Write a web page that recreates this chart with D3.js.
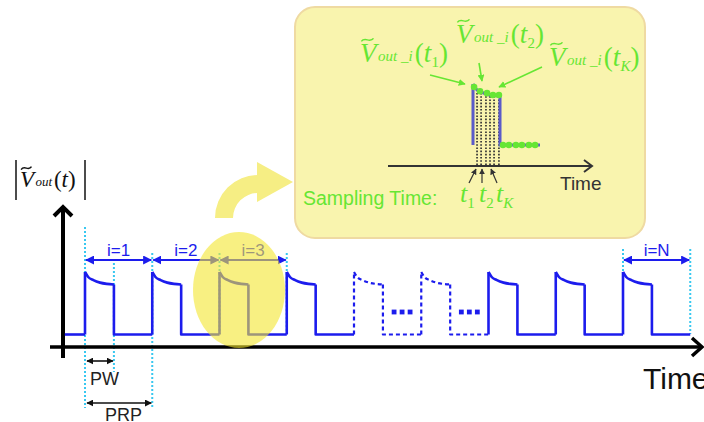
<!DOCTYPE html>
<html>
<head>
<meta charset="utf-8">
<script src="https://cdn.jsdelivr.net/npm/d3@7"></script>
<style>
  html, body { margin: 0; padding: 0; background: #fff; overflow: hidden; }
  text { font-family: "Liberation Sans", Arial, sans-serif; }
  .math { font-family: "Liberation Serif", "Times New Roman", serif; }
</style>
</head>
<body>
<svg id="chart" width="704" height="422"></svg>
<script>
// ---------- pulse train ----------
const periods = [0, 1, 2, 3, 4, 5, 6, 7, 8];            // start of each repetition, in PRP units
const dashedPeriods = [4, 5];                             // elided repetitions, drawn dashed
const pulseWidth = 0.43;                                  // PW as a fraction of PRP
const noiseFloor = 0.2;                                   // off-state magnitude
const topPhase = [0, 0.11, 0.29, 0.52, 0.75, 1.0];        // position along the pulse top (fraction of PW)
const topLevel = [1.2, 1.12, 1.07, 1.03, 1.01, 1.0];      // magnitude along the pulse top
const labelPeriods = [0, 1, 2, 8];
const labelTexts = ["i=1", "i=2", "i=3", "i=N"];
const ellipsisLevel = 0.56;

// ---------- zoomed single pulse with its samples ----------
const insetRise = 0;
const insetFall = 1;
const insetEnd = 2.48;
const insetTopT = [0.04, 0.26, 0.52, 0.74, 0.96];
const insetTopV = [1.15, 1.08, 1.05, 1.02, 1.02];
const insetBaseT = [1.11, 1.33, 1.59, 1.81, 2.07, 2.30];
const insetGridT = [0.15, 0.30, 0.48, 0.63, 0.78, 0.96];

// ---------- colours ----------
const BLUE = "#1c1ced";
const CYAN = "#38c8f0";
const GREEN = "#66e633";
const YELLOW = "rgb(243,230,47)";

const svg = d3.select("#chart");
const defs = svg.append("defs");

function arrowMarker(id, color, size) {
  defs.append("marker")
    .attr("id", id)
    .attr("viewBox", "0 -5 10 10")
    .attr("refX", 9).attr("refY", 0)
    .attr("markerUnits", "userSpaceOnUse")
    .attr("markerWidth", size).attr("markerHeight", size)
    .attr("orient", "auto-start-reverse")
    .append("path").attr("d", "M0,-5L10,0L0,5Z").attr("fill", color);
}
arrowMarker("ab", BLUE, 9);
arrowMarker("ak", "#111", 7);
arrowMarker("ag", GREEN, 7);
arrowMarker("ad", "#333", 6);

// ---------- scales ----------
const x = d3.scaleLinear().domain([0, 8]).range([85, 623]);
const y = d3.scaleLinear().domain([0, 1.2]).range([347, 272]);

// ---------- inset panel ----------
const inset = svg.append("g");
inset.append("rect")
  .attr("x", 295).attr("y", 7).attr("width", 350).attr("height", 231)
  .attr("rx", 20)
  .attr("fill", "#f9f4ae").attr("stroke", "#efdaa2").attr("stroke-width", 2);

const ix = d3.scaleLinear().domain([0, 1]).range([473, 500]);
const iy = d3.scaleLinear().domain([0.2, 1.2]).range([145, 84]);

// sampling instants
inset.selectAll("line.grid").data(insetGridT).join("line")
  .attr("class", "grid")
  .attr("x1", d => ix(d)).attr("x2", d => ix(d))
  .attr("y1", 93).attr("y2", 165)
  .attr("stroke", "#333").attr("stroke-width", 1.7)
  .attr("stroke-dasharray", "1.6,1.6");

// inset time axis
inset.append("line").attr("x1", 388).attr("x2", 591).attr("y1", 166).attr("y2", 166)
  .attr("stroke", "#333").attr("stroke-width", 2);
inset.append("path").attr("d", "M584,160L592,166L584,172")
  .attr("fill", "none").attr("stroke", "#333").attr("stroke-width", 2);
inset.append("text").attr("x", 560).attr("y", 190)
  .attr("font-size", 19).attr("fill", "#333").text("Time");

// zoomed pulse
const insetTop = topPhase.map((p, k) => [insetRise + p * (insetFall - insetRise), topLevel[k]]);
const iline = d3.line().x(d => ix(d[0])).y(d => iy(d[1]));
const insetPulseColor = "#5b5bc9";
inset.append("path")
  .attr("d", iline([[insetRise, noiseFloor], [insetRise, topLevel[0]]]))
  .attr("stroke", insetPulseColor).attr("stroke-width", 3).attr("fill", "none");
inset.append("path")
  .attr("d", iline.curve(d3.curveMonotoneX)(insetTop))
  .attr("stroke", insetPulseColor).attr("stroke-width", 3).attr("fill", "none");
iline.curve(d3.curveLinear);
inset.append("path")
  .attr("d", iline([[insetFall, topLevel[topLevel.length - 1]], [insetFall, noiseFloor], [insetEnd, noiseFloor]]))
  .attr("stroke", insetPulseColor).attr("stroke-width", 3).attr("fill", "none");

// samples
inset.selectAll("circle.top").data(insetTopT).join("circle")
  .attr("class", "top")
  .attr("cx", d => ix(d)).attr("cy", (d, k) => iy(insetTopV[k])).attr("r", 3.3)
  .attr("fill", GREEN);
inset.selectAll("circle.base").data(insetBaseT).join("circle")
  .attr("class", "base")
  .attr("cx", d => ix(d)).attr("cy", iy(noiseFloor)).attr("r", 3.3)
  .attr("fill", GREEN);

// magnitude labels  V~_out_i(t_k)
function tilde(g, x0, yc, w, color, sw) {
  g.append("path")
    .attr("d", `M${x0},${yc + 1.5}C${x0 + w * 0.3},${yc - 3.5} ${x0 + w * 0.7},${yc + 3.5} ${x0 + w},${yc - 1.5}`)
    .attr("fill", "none").attr("stroke", color).attr("stroke-width", sw);
}
function magLabel(g, x0, base, size, subSize, sub, arg, argSub, color) {
  const t = g.append("text").attr("class", "math")
    .attr("x", x0).attr("y", base).attr("fill", color).attr("font-size", size);
  t.append("tspan").attr("font-style", "italic").text("V");
  t.append("tspan").attr("font-style", "italic").attr("font-size", subSize)
    .attr("dx", size * 0.06).attr("dy", -1).attr("xml:space", "preserve").text(sub);
  t.append("tspan").attr("dx", size * 0.08).attr("dy", 1).text("(");
  t.append("tspan").attr("font-style", "italic").text(arg);
  if (argSub) {
    t.append("tspan").attr("font-size", subSize)
      .attr("font-style", /[A-Za-z]/.test(argSub) ? "italic" : "normal")
      .attr("dy", size * 0.2).text(argSub);
    t.append("tspan").attr("dy", -size * 0.2).text(")");
  } else {
    t.append("tspan").text(")");
  }
  tilde(g, x0 + size * 0.05, base - size * 0.82, size * 0.45, color, 1.5);
}
magLabel(inset, 360, 62, 27, 15, "out _i", "t", "1", GREEN);
magLabel(inset, 456, 43, 27, 15, "out _i", "t", "2", GREEN);
magLabel(inset, 549, 66, 27, 15, "out _i", "t", "K", GREEN);

// pointers from the labels to the samples
const pointers = [[430, 75, 465, 84], [479, 63, 482, 81], [542, 67, 499, 87]];
inset.selectAll("line.ptr").data(pointers).join("line")
  .attr("class", "ptr")
  .attr("x1", d => d[0]).attr("y1", d => d[1]).attr("x2", d => d[2]).attr("y2", d => d[3])
  .attr("stroke", GREEN).attr("stroke-width", 1.6).attr("marker-end", "url(#ag)");

// sampling-time pointers and caption
const tPointers = [[469, 183, 476, 169], [482, 183, 482, 169], [497, 183, 491, 169]];
inset.selectAll("line.tptr").data(tPointers).join("line")
  .attr("class", "tptr")
  .attr("x1", d => d[0]).attr("y1", d => d[1]).attr("x2", d => d[2]).attr("y2", d => d[3])
  .attr("stroke", "#333").attr("stroke-width", 1.2).attr("marker-end", "url(#ad)");
inset.append("text").attr("x", 303).attr("y", 205)
  .attr("font-size", 19.5).attr("fill", GREEN).text("Sampling Time:");
[["1", 460], ["2", 479], ["K", 496]].forEach(([s, tx]) => {
  const t = inset.append("text").attr("class", "math").attr("x", tx).attr("y", 202)
    .attr("fill", GREEN).attr("font-size", 26);
  t.append("tspan").attr("font-style", "italic").text("t");
  t.append("tspan").attr("font-size", 15).attr("dy", 6)
    .attr("font-style", s === "K" ? "italic" : "normal").text(s);
});

// ---------- period guides ----------
const guides = [
  [0, 227, 408], [pulseWidth, 263, 372], [1, 253, 408],
  [2, 253, 334], [3, 253, 334], [8, 249, 334], [9, 249, 334]
];
svg.selectAll("line.guide").data(guides).join("line")
  .attr("class", "guide")
  .attr("x1", d => x(d[0])).attr("x2", d => x(d[0]))
  .attr("y1", d => d[1]).attr("y2", d => d[2])
  .attr("stroke", CYAN).attr("stroke-width", 2).attr("stroke-dasharray", "2,2");

// ---------- axes ----------
svg.append("line").attr("x1", 50).attr("x2", 701).attr("y1", y(0)).attr("y2", y(0))
  .attr("stroke", "#000").attr("stroke-width", 3.5);
svg.append("path").attr("d", `M692,${y(0) - 9}L702,${y(0)}L692,${y(0) + 9}`)
  .attr("fill", "none").attr("stroke", "#000").attr("stroke-width", 3.5);
svg.append("line").attr("x1", 63).attr("x2", 63).attr("y1", 358).attr("y2", 208)
  .attr("stroke", "#000").attr("stroke-width", 4);
svg.append("path").attr("d", "M54,216L63,207L72,216")
  .attr("fill", "none").attr("stroke", "#000").attr("stroke-width", 4);

svg.append("text").attr("x", 643).attr("y", 389)
  .attr("font-size", 30).attr("fill", "#111").text("Time");

// y-axis label |V~_out(t)|
const yl = svg.append("g");
yl.append("line").attr("x1", 16).attr("x2", 16).attr("y1", 160).attr("y2", 200)
  .attr("stroke", "#111").attr("stroke-width", 1.5);
yl.append("line").attr("x1", 85).attr("x2", 85).attr("y1", 160).attr("y2", 200)
  .attr("stroke", "#111").attr("stroke-width", 1.5);
magLabel(yl, 20, 187, 23, 13, "out", "t", null, "#111");

// ---------- pulse train ----------
const line = d3.line().x(d => x(d[0])).y(d => y(d[1]));
const topLine = d3.line().x(d => x(d[0])).y(d => y(d[1])).curve(d3.curveMonotoneX);
const train = svg.append("g").attr("fill", "none").attr("stroke", BLUE)
  .attr("stroke-linejoin", "round");

// lead-in before the first pulse
train.append("path").attr("d", line([[-0.3, noiseFloor], [0, noiseFloor]]))
  .attr("stroke-width", 2.6);

periods.forEach(p => {
  const dashed = dashedPeriods.includes(p);
  const top = topPhase.map((ph, k) => [p + ph * pulseWidth, topLevel[k]]);
  const g = train.append("g")
    .attr("stroke-width", dashed ? 2.2 : 2.6)
    .attr("stroke-dasharray", dashed ? "4,3" : null);
  g.append("path").attr("d", line([[p, noiseFloor], [p, topLevel[0]]]));
  g.append("path").attr("d", topLine(top));
  g.append("path").attr("d", line([
    [p + pulseWidth, topLevel[topLevel.length - 1]],
    [p + pulseWidth, noiseFloor],
    [p + 1, noiseFloor]
  ]));
});

// "..." between the elided pulses
dashedPeriods.forEach(p => {
  const mid = p + (pulseWidth + 1) / 2;
  [-1, 0, 1].forEach(k => {
    train.append("rect")
      .attr("x", x(mid) + k * 8 - 2.4).attr("y", y(ellipsisLevel) - 2.4)
      .attr("width", 4.8).attr("height", 4.8)
      .attr("fill", BLUE).attr("stroke", "none");
  });
});

// period spans i=1, i=2, ...
const spanY = 260;
svg.selectAll("line.span").data(labelPeriods).join("line")
  .attr("class", "span")
  .attr("x1", d => x(d) + 1).attr("x2", d => x(d + 1) - 1)
  .attr("y1", spanY).attr("y2", spanY)
  .attr("stroke", BLUE).attr("stroke-width", 2)
  .attr("marker-start", "url(#ab)").attr("marker-end", "url(#ab)");
svg.selectAll("text.span").data(labelPeriods).join("text")
  .attr("class", "span")
  .attr("x", d => x(d + 0.5)).attr("y", 256)
  .attr("text-anchor", "middle").attr("font-size", 17).attr("fill", BLUE)
  .text((d, k) => labelTexts[k]);

// PW and PRP
svg.append("line").attr("x1", x(0) + 2).attr("x2", x(pulseWidth) - 1)
  .attr("y1", 361).attr("y2", 361).attr("stroke", "#111").attr("stroke-width", 1.6)
  .attr("marker-start", "url(#ak)").attr("marker-end", "url(#ak)");
svg.append("text").attr("x", 90).attr("y", 385).attr("font-size", 18).attr("fill", "#222").text("PW");
svg.append("line").attr("x1", x(0) + 2).attr("x2", x(1) - 1)
  .attr("y1", 403).attr("y2", 403).attr("stroke", "#111").attr("stroke-width", 1.6)
  .attr("marker-start", "url(#ak)").attr("marker-end", "url(#ak)");
svg.append("text").attr("x", 105).attr("y", 421).attr("font-size", 18).attr("fill", "#222").text("PRP");

// ---------- highlight of the i=3 pulse and the zoom arrow ----------
svg.append("ellipse").attr("cx", 239).attr("cy", 290).attr("rx", 46).attr("ry", 58)
  .attr("fill", YELLOW).attr("opacity", 0.6);

const arc = d3.arc().innerRadius(25).outerRadius(43).startAngle(-Math.PI / 2).endAngle(0);
svg.append("path").attr("transform", "translate(258,218)").attr("d", arc())
  .attr("fill", "#f6ee84");
svg.append("path").attr("d", "M257,162L293,182L257,202Z").attr("fill", "#f6ee84");
</script>
</body>
</html>
